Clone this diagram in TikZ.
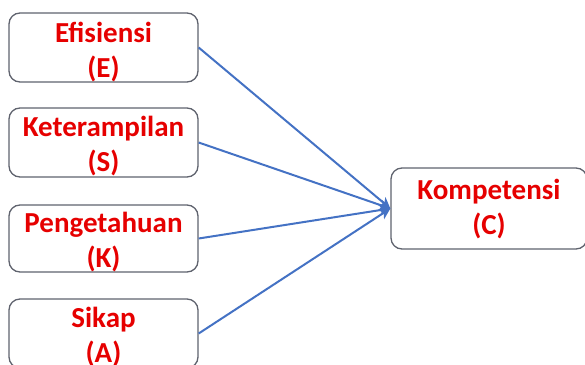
\documentclass[tikz,border=0pt]{standalone}
\usepackage{fontspec}
\setmainfont{Carlito}
\usetikzlibrary{arrows.meta}
\definecolor{txtred}{RGB}{230,0,0}
\definecolor{linkblue}{RGB}{68,114,196}
\definecolor{boxgrey}{RGB}{95,99,110}
\begin{document}
\begin{tikzpicture}[x=1pt,y=-1pt,
  box/.style={draw=boxgrey,line width=1.3pt,rounded corners=11pt,fill=white,inner sep=0pt},
  lbl/.style={text=txtred,font=\fontsize{29}{35}\selectfont\bfseries,align=center,inner sep=0pt},
  link/.style={draw=linkblue,line width=2pt,-{Stealth[length=11pt,width=11pt,inset=3pt]}}]
\useasboundingbox (0,0) rectangle (585,364);
\node[box,minimum width=189pt,minimum height=69pt] (e) at (103.5,47.5) {};
\node[box,minimum width=189pt,minimum height=69pt] (s) at (103.5,142.5) {};
\node[box,minimum width=189pt,minimum height=67pt] (k) at (103.5,238.5) {};
\node[box,minimum width=189pt,minimum height=69pt] (a) at (103.5,333.5) {};
\node[box,minimum width=196pt,minimum height=81pt] (c) at (489,208.5) {};
\node[lbl] (te) at ([yshift=-4pt]e.center) {Efisiensi\\(E)};
\node[lbl] (ts) at ([yshift=-4pt]s.center) {Keterampilan\\(S)};
\node[lbl] (tk) at ([yshift=-4pt]k.center) {Pengetahuan\\(K)};
\node[lbl] (ta) at ([yshift=-4pt]a.center) {Sikap\\(A)};
\node[lbl] (tc) at ([yshift=-1pt]c.center) {Kompetensi\\(C)};
\draw[link] (e.east) -- (c.west);
\draw[link] (s.east) -- (c.west);
\draw[link] (k.east) -- (c.west);
\draw[link] (a.east) -- (c.west);
\end{tikzpicture}
\end{document}
